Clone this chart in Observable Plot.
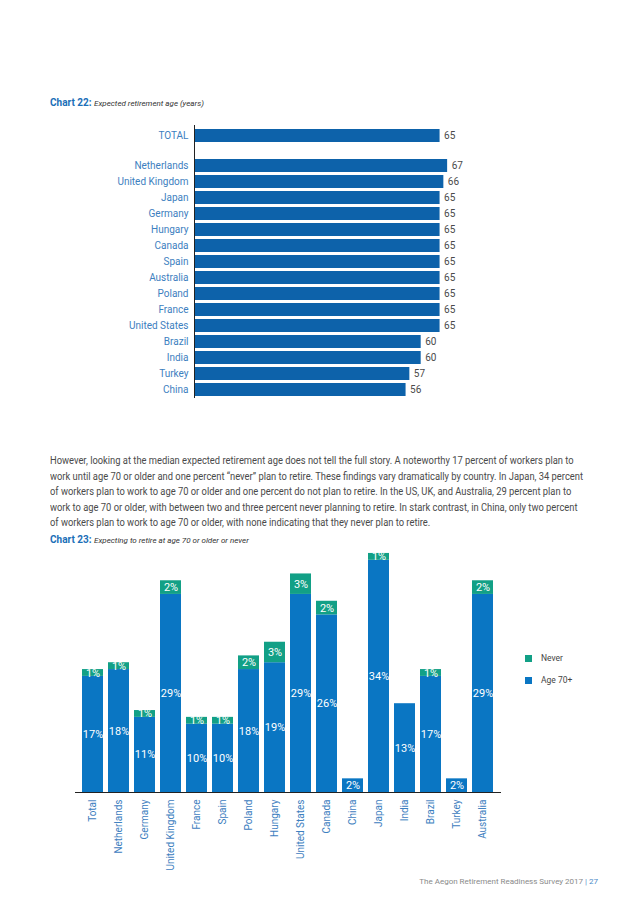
<!DOCTYPE html>
<html><head><meta charset="utf-8">
<script src="https://cdn.jsdelivr.net/npm/d3@7"></script>
<script src="https://cdn.jsdelivr.net/npm/@observablehq/plot@0.6"></script>
<style>
body{margin:0;background:#fff;}
#page{position:relative;width:638px;height:903px;overflow:hidden;font-family:Roboto,"Open Sans",sans-serif;background:#fff;}
.abs{position:absolute;}
.ttl{font-size:10px;color:#333;white-space:nowrap;}
.ttl b{color:#1b6fb8;font-weight:700;}
.ttl i{font-size:8px;color:#333;}
#para{left:50px;top:453px;font-size:10px;line-height:15.5px;color:#4a4a4a;white-space:nowrap;}
#para div{transform-origin:0 50%;}
.lg{font-size:8.5px;color:#444;white-space:nowrap;display:flex;align-items:center;}
.sw{width:7px;height:7px;display:inline-block;margin-right:9px;}
#foot{right:40px;top:877px;font-size:8px;color:#8a8a8a;white-space:nowrap;}
#foot span{color:#4a8ac8;}
</style></head><body><div id="page">
<div class="abs ttl" style="left:50px;top:97px;"><b>Chart 22:</b> <i>Expected retirement age (years)</i></div>
<div id="c22a" class="abs" style="left:0;top:125px;"></div>
<div id="c22b" class="abs" style="left:0;top:153px;"></div>
<div id="para" class="abs">
<div>However, looking at the median expected retirement age does not tell the full story. A noteworthy 17 percent of workers plan to</div>
<div>work until age 70 or older and one percent “never” plan to retire. These findings vary dramatically by country. In Japan, 34 percent</div>
<div>of workers plan to work to age 70 or older and one percent do not plan to retire. In the US, UK, and Australia, 29 percent plan to</div>
<div>work to age 70 or older, with between two and three percent never planning to retire. In stark contrast, in China, only two percent</div>
<div>of workers plan to work to age 70 or older, with none indicating that they never plan to retire.</div>
</div>
<div class="abs ttl" style="left:50px;top:534px;"><b>Chart 23:</b> <i>Expecting to retire at age 70 or older or never</i></div>
<div id="c23" class="abs" style="left:0;top:548px;"></div>
<div id="legend" class="abs" style="left:525px;top:653px;"></div>
<div id="foot" class="abs">The Aegon Retirement Readiness Survey 2017 <span>| 27</span></div>
</div>
<script>
// Chart 22 data
const totalLabel22 = ["TOTAL"];
const totalValue22 = [65];
const countries22 = ["Netherlands","United Kingdom","Japan","Germany","Hungary","Canada","Spain","Australia","Poland","France","United States","Brazil","India","Turkey","China"];
const ages22 = [67,66,65,65,65,65,65,65,65,65,65,60,60,57,56];

// Chart 23 data
const countries23 = ["Total","Netherlands","Germany","United Kingdom","France","Spain","Poland","Hungary","United States","Canada","China","Japan","India","Brazil","Turkey","Australia"];
const age70 = [17,18,11,29,10,10,18,19,29,26,2,34,13,17,2,29];
const never = [1,1,1,2,1,1,2,3,3,2,0,1,0,1,0,2];
const seriesNames = ["Never","Age 70+"];
const seriesColors = ["#12a086","#0a76c3"];

const FONT = "Roboto, 'Open Sans', sans-serif";
const STEP22 = 16.29;

function bar22(names, values, h) {
  const data = names.map((n, i) => ({name: n, value: values[i]}));
  return Plot.plot({
    width: 638, height: h,
    marginTop: 0, marginBottom: 0, marginLeft: 194, marginRight: 638 - (194 + 67 * 3.778),
    style: {fontFamily: FONT, background: "transparent", overflow: "visible"},
    x: {domain: [0, 67], axis: null},
    y: {domain: names, range: [0.23, 0.23 + (names.length + 0.2) * STEP22], padding: 0.2, label: null},
    marks: [
      Plot.barX(data, {x: "value", y: "name", fill: "#0d62aa"}),
      Plot.text(data, {x: "value", y: "name", text: d => String(d.value), dx: 4, textAnchor: "start", fill: "#4a4a4a", fontSize: 10}),
      Plot.axisY({tickSize: 0, tickPadding: 6, fill: "#3d80c0", fontSize: 10, label: null}),
      Plot.ruleX([0], {stroke: "#222", strokeWidth: 1})
    ]
  });
}
document.getElementById("c22a").appendChild(bar22(totalLabel22, totalValue22, 28));
document.getElementById("c22b").appendChild(bar22(countries22, ages22, 245));

// Chart 23
const rows = [];
countries23.forEach((c, i) => rows.push({country: c, series: "Age 70+", value: age70[i]}));
countries23.forEach((c, i) => rows.push({country: c, series: "Never", value: never[i]}));
const base = 792 - 548;
const c23 = Plot.plot({
  width: 638, height: 335,
  marginTop: 0, marginBottom: 335 - base, marginLeft: 75, marginRight: 137,
  style: {fontFamily: FONT, background: "transparent"},
  x: {domain: countries23, range: [76, 499], padding: 0.18, label: null},
  y: {domain: [0, 35], range: [base, base - 35 * 6.83], axis: null},
  color: {domain: seriesNames, range: seriesColors},
  marks: [
    Plot.barY(rows, {x: "country", y: "value", fill: "series", z: "series"}),
    Plot.text(rows, Plot.stackY({x: "country", y: "value", z: "series", text: d => d.value + "%", filter: d => d.value > 0, fill: "white", fontSize: 11})),
    Plot.ruleY([0], {stroke: "#222", strokeWidth: 1}),
    Plot.axisX({tickSize: 0, tickPadding: 7, tickRotate: -90, fill: "#3d80c0", fontSize: 10, label: null})
  ]
});
document.getElementById("c23").appendChild(c23);

// Legend
const lg = document.getElementById("legend");
seriesNames.forEach((s, i) => {
  const d = document.createElement("div");
  d.className = "lg";
  d.style.marginBottom = "12px";
  d.innerHTML = `<span class="sw" style="background:${seriesColors[i]}"></span>${s}`;
  lg.appendChild(d);
});

// Fit paragraph width
const lines = document.querySelectorAll("#para div");
const w0 = lines[0].getBoundingClientRect().width;
const k = 533 / w0;
lines.forEach(l => { l.style.transform = `scaleX(${k})`; });
</script>
</body></html>
